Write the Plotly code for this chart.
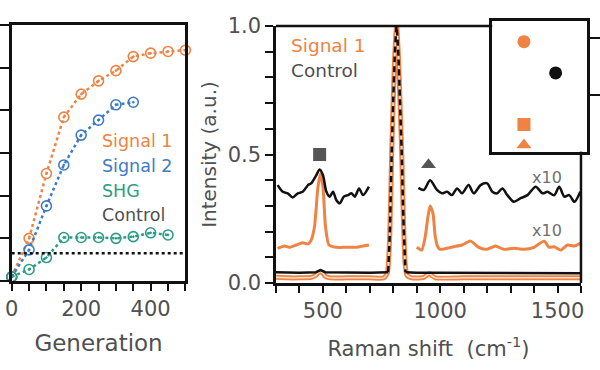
import plotly.graph_objects as go

# ---------------- data ----------------
# left panel: signal vs generation
gen = [0, 50, 100, 150, 200, 250, 300, 350, 400, 450, 500]
sig1 = [0.1, 1.0, 2.52, 3.84, 4.38, 4.69, 4.93, 5.26, 5.34, 5.38, 5.41]
sig2 = [0.1, 0.73, 1.76, 2.72, 3.42, 3.77, 4.13, 4.19]
shg = [0.1, 0.27, 0.55, 1.02, 1.02, 1.02, 1.0, 1.04, 1.13, 1.08]
ctrl_gen = [0, 500]
ctrl_level = [0.65, 0.65]
gen_tickvals = [0, 200, 400]
gen_ticktext = ["0", "200", "400"]

# right panel: Raman spectra
s1_x = [300, 350, 400, 450, 470, 480, 490, 500, 510, 530, 600, 700, 760, 775, 785, 793, 800, 806, 814,
        822, 828, 836, 843, 850, 858, 880, 930, 945, 955, 965, 980, 1100, 1300, 1500, 1600]
s1_y = [0.022, 0.02, 0.02, 0.022, 0.03, 0.04, 0.045, 0.038, 0.026, 0.02, 0.02, 0.02, 0.02, 0.04, 0.19,
        0.5, 0.72, 0.88, 1.0, 0.88, 0.72, 0.5, 0.25, 0.08, 0.03, 0.02, 0.022, 0.032, 0.036, 0.028, 0.02,
        0.02, 0.02, 0.02, 0.02]

ctl_x = [300, 400, 470, 490, 510, 600, 700, 778, None, 852, 900, 1000, 1200, 1400, 1600]
ctl_y = [0.042, 0.04, 0.042, 0.05, 0.042, 0.04, 0.04, 0.042, None, 0.042, 0.04, 0.04, 0.04, 0.04, 0.038]
ctl_pk_x = [778, 785, 793, 800, 806, 814, 822, 828, 836, 843, 852]
ctl_pk_y = [0.042, 0.19, 0.5, 0.72, 0.88, 1.0, 0.88, 0.72, 0.5, 0.25, 0.042]

ctl10_x = [307, 329, 350, 371, 393, 414, 436, 450, 472, 486, 500, 515, 529, 543, 557, 572, 589, 607, 622,
           636, 654, 671, 696, None,
           907, 930, 957, 986, 1007, 1029, 1050, 1072, 1093, 1121, 1143, 1172, 1200, 1222, 1243, 1265, 1286,
           1314, 1343, 1372, 1407, 1436, 1457, 1486, 1507, 1529, 1550, 1572, 1597]
ctl10_y = [0.381, 0.355, 0.349, 0.333, 0.349, 0.355, 0.381, 0.388, 0.420, 0.442, 0.420, 0.355, 0.336,
           0.355, 0.323, 0.310, 0.336, 0.342, 0.349, 0.336, 0.368, 0.342, 0.375, None,
           0.37, 0.362, 0.40, 0.362, 0.349, 0.355, 0.342, 0.368, 0.349, 0.381, 0.349, 0.381, 0.388, 0.355,
           0.349, 0.368, 0.342, 0.316, 0.330, 0.342, 0.375, 0.349, 0.355, 0.342, 0.375, 0.336, 0.342,
           0.316, 0.355]

s10_x = [307, 336, 357, 386, 414, 436, 450, 464, 479, 489, 500, 511, 526, 557, 600, 643, 671, 696, None,
         900, 921, 936, 948, 957, 969, 979, 990, 1000, 1029, 1057, 1093, 1129, 1164, 1200, 1236, 1271, 1314,
         1357, 1400, 1443, 1464, 1486, 1514, 1543, 1572, 1597]
s10_y = [0.135, 0.144, 0.139, 0.148, 0.157, 0.152, 0.167, 0.219, 0.375, 0.424, 0.375, 0.219, 0.148, 0.139,
         0.139, 0.139, 0.144, 0.148, None,
         0.139, 0.128, 0.18, 0.26, 0.30, 0.271, 0.18, 0.14, 0.131, 0.135, 0.141, 0.148, 0.163, 0.139, 0.131,
         0.144, 0.131, 0.135, 0.131, 0.139, 0.163, 0.139, 0.141, 0.128, 0.148, 0.144, 0.154]

raman_tickvals = [500, 1000, 1500]
raman_ticktext = ["500", "1000", "1500"]
int_tickvals = [0, 0.5, 1.0]
int_ticktext = ["0.0", "0.5", "1.0"]

# peak markers
peak_x = [486, 815, 950]
peak_y = [0.50, 1.05, 0.46]
peak_sym = ["square", "circle", "triangle-up"]

# inset
ins_x = [1, 2, 1, 1]
ins_y = [1.94, 1.39, 0.48, 0.12]
ins_sym = ["circle", "circle", "square", "triangle-up"]
ins_col = ["#EE8343", "#111111", "#EE8343", "#EE8343"]

ORANGE = "#EE8343"
BLUE = "#3D7CC4"
GREEN = "#2E9C86"
TXT = "#505050"
FONT = "DejaVu Sans"

fig = go.Figure()

# ---------- left panel ----------
for ys, col in [(sig1, ORANGE), (sig2, BLUE), (shg, GREEN)]:
    fig.add_trace(go.Scatter(x=gen[:len(ys)], y=ys, mode="lines+markers",
                             line=dict(color=col, width=2.5, dash="dot"),
                             marker=dict(symbol="circle-open-dot", size=10, color=col, line=dict(width=1.6)),
                             cliponaxis=False, xaxis="x", yaxis="y", showlegend=False))
fig.add_trace(go.Scatter(x=ctrl_gen, y=ctrl_level, mode="lines",
                         line=dict(color="#111111", width=2.5, dash="dot"),
                         xaxis="x", yaxis="y", showlegend=False))

# ---------- right panel ----------
fig.add_trace(go.Scatter(x=s1_x, y=s1_y, mode="lines", line=dict(color=ORANGE, width=5, shape="spline", smoothing=0.5),
                         xaxis="x2", yaxis="y2", showlegend=False))
fig.add_trace(go.Scatter(x=s1_x, y=s1_y, mode="lines", line=dict(color="#FBE0CF", width=1.5, shape="spline", smoothing=0.5),
                         xaxis="x2", yaxis="y2", showlegend=False))
fig.add_trace(go.Scatter(x=ctl_x, y=ctl_y, mode="lines", line=dict(color="#111111", width=2.5),
                         xaxis="x2", yaxis="y2", showlegend=False))
fig.add_trace(go.Scatter(x=ctl_pk_x, y=ctl_pk_y, mode="lines",
                         line=dict(color="#111111", width=2.5, dash="6px,4px", shape="spline", smoothing=0.5),
                         xaxis="x2", yaxis="y2", showlegend=False))
fig.add_trace(go.Scatter(x=s10_x, y=s10_y, mode="lines", line=dict(color=ORANGE, width=3, shape="spline", smoothing=0.6),
                         xaxis="x2", yaxis="y2", showlegend=False))
fig.add_trace(go.Scatter(x=ctl10_x, y=ctl10_y, mode="lines", line=dict(color="#111111", width=2.5, shape="spline", smoothing=0.8),
                         xaxis="x2", yaxis="y2", showlegend=False))
fig.add_trace(go.Scatter(x=peak_x, y=peak_y, mode="markers",
                         marker=dict(symbol=peak_sym, size=13, color="#555555"),
                         cliponaxis=False, xaxis="x2", yaxis="y2", showlegend=False))

# ---------- inset ----------
fig.add_trace(go.Scatter(x=ins_x, y=ins_y, mode="markers",
                         marker=dict(symbol=ins_sym, size=13, color=ins_col),
                         xaxis="x3", yaxis="y3", showlegend=False))

axis_common = dict(showgrid=False, zeroline=False, linecolor="#111111", linewidth=2.5, automargin=False,
                   tickcolor="#111111", tickwidth=2, ticks="outside", tickangle=0,
                   tickfont=dict(family=FONT, size=21, color=TXT))

fig.update_layout(
    template="none",
    width=600, height=370, margin=dict(l=0, r=0, t=0, b=0, autoexpand=False),
    paper_bgcolor="white", plot_bgcolor="rgba(0,0,0,0)",
    font=dict(family=FONT, color=TXT),
    xaxis=dict(**axis_common, domain=[0.0195, 0.309], range=[0, 500], showline=True, mirror=True,
               tickvals=gen_tickvals, ticktext=gen_ticktext, ticklen=7,
               minor=dict(dtick=50, tick0=0, ticklen=7, tickwidth=2, tickcolor="#111111", ticks="outside"),
               title=dict(text="Generation", font=dict(family=FONT, size=23, color=TXT), standoff=15)),
    yaxis=dict(**axis_common, domain=[0.2405, 0.9324], range=[0, 6], dtick=1, showline=True, mirror=True,
               showticklabels=False, ticklen=12),
    xaxis2=dict(**axis_common, domain=[0.46, 0.9683], range=[300, 1600], showline=True,
                tickvals=raman_tickvals, ticktext=raman_ticktext, ticklen=7,
                minor=dict(dtick=100, tick0=0, ticklen=7, tickwidth=2, tickcolor="#111111", ticks="outside"),
                anchor="y2",
                title=dict(text="Raman shift  (cm<sup>-1</sup>)", font=dict(family=FONT, size=21, color=TXT), standoff=20)),
    yaxis2=dict(**axis_common, domain=[0.2351, 0.9297], range=[0, 1], showline=True, anchor="x2",
                tickvals=int_tickvals, ticktext=int_ticktext, ticklen=8,
                minor=dict(dtick=0.1, tick0=0, ticklen=8, tickwidth=2, tickcolor="#111111", ticks="outside"),
                title=dict(text="Intensity (a.u.)", font=dict(family=FONT, size=20, color=TXT), standoff=6)),
    xaxis3=dict(showgrid=False, zeroline=False, domain=[0.8205, 0.9788], range=[0, 3], showline=True,
                mirror=True, linecolor="#111111", linewidth=2.5, showticklabels=False, ticks="",
                anchor="y3", automargin=False),
    yaxis3=dict(showgrid=False, zeroline=False, domain=[0.59, 0.944], range=[0, 2.31], showline=True,
                mirror=True, side="right", linecolor="#111111", linewidth=2.5, ticks="outside",
                tickvals=[1, 2], ticklen=12, tickwidth=2, tickcolor="#111111", showticklabels=False,
                anchor="x3", automargin=False),
)

# main panel frame (top and right) stopping at the inset
fig.add_shape(type="line", xref="x2 domain", yref="y2 domain", x0=0, x1=0.709, y0=1, y1=1,
              line=dict(color="#111111", width=2.5))
fig.add_shape(type="line", xref="x2 domain", yref="y2 domain", x0=1, x1=1, y0=0, y1=0.511,
              line=dict(color="#111111", width=2.5))

# text labels
left_labels = [("Signal 1", ORANGE, 0.620), ("Signal 2", BLUE, 0.552), ("SHG", GREEN, 0.484), ("Control", TXT, 0.419)]
for t, c, y in left_labels:
    fig.add_annotation(text=t, x=0.166, y=y, xref="paper", yref="paper", xanchor="left", yanchor="middle",
                       showarrow=False, font=dict(family=FONT, size=17.5, color=c))
for t, c, y in [("Signal 1", ORANGE, 0.878), ("Control", TXT, 0.810)]:
    fig.add_annotation(text=t, x=0.482, y=y, xref="paper", yref="paper", xanchor="left", yanchor="middle",
                       showarrow=False, font=dict(family=FONT, size=18.5, color=c))
for y in [0.41, 0.205]:
    fig.add_annotation(text="x10", x=1457, y=y, xref="x2", yref="y2", showarrow=False,
                       font=dict(family=FONT, size=16, color="#707070"))

fig.write_html("out.html", config={"displayModeBar": False},
               post_script="document.body.style.margin='0px';document.body.style.overflow='hidden';")
